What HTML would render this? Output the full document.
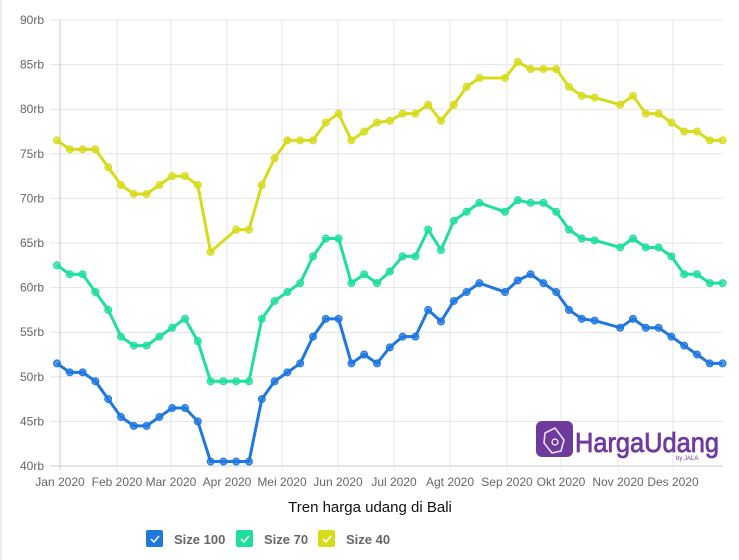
<!DOCTYPE html>
<html><head><meta charset="utf-8"><style>
html,body{margin:0;padding:0;background:#fff;width:739px;height:560px;overflow:hidden;font-family:"Liberation Sans",sans-serif}
</style></head><body>
<svg id="s" width="739" height="560" xmlns="http://www.w3.org/2000/svg"></svg>
<script>
const s=document.getElementById('s');
let h='';
h+='<line x1="1" y1="0" x2="1" y2="560" stroke="#e6e6e6" stroke-width="1.5"/>';
const Y=v=>466-(v-40)*8.92;
for(let v=40;v<=90;v+=5){const y=Y(v);h+=`<line x1="50" y1="${y}" x2="723" y2="${y}" stroke="${v==40?'#ccc':'#e4e4e4'}" stroke-width="1"/>`;
h+=`<text x="44" y="${y+4}" text-anchor="end" font-size="12" fill="#666">${v}rb</text>`;}
const gx=[60,117,171,227,282,338,394,450,507,561,618,673];
const ml=['Jan','Feb','Mar','Apr','Mei','Jun','Jul','Agt','Sep','Okt','Nov','Des'];
gx.forEach((x,i)=>{h+=`<line x1="${x}" y1="20" x2="${x}" y2="470" stroke="${i==0?'#c8c8c8':'#e4e4e4'}" stroke-width="1"/>`;
h+=`<text x="${x}" y="486" text-anchor="middle" font-size="12" fill="#666">${ml[i]} 2020</text>`;});
const N=null;
const yel=[76.5,75.5,75.5,75.5,73.5,71.5,70.5,70.5,71.5,72.5,72.5,71.5,64,N,66.5,66.5,71.5,74.5,76.5,76.5,76.5,78.5,79.5,76.5,77.5,78.5,78.7,79.5,79.5,80.5,78.7,80.5,82.5,83.5,N,83.5,85.3,84.5,84.5,84.5,82.5,81.5,81.3,N,80.5,81.5,79.5,79.5,78.5,77.5,77.5,76.5,76.5];
const grn=[62.5,61.5,61.5,59.5,57.5,54.5,53.5,53.5,54.5,55.5,56.5,54,49.5,49.5,49.5,49.5,56.5,58.5,59.5,60.5,63.5,65.5,65.5,60.5,61.5,60.5,61.8,63.5,63.5,66.5,64.2,67.5,68.5,69.5,N,68.5,69.8,69.5,69.5,68.5,66.5,65.5,65.3,N,64.5,65.5,64.5,64.5,63.5,61.5,61.5,60.5,60.5];
const blu=[51.5,50.5,50.5,49.5,47.5,45.5,44.5,44.5,45.5,46.5,46.5,45,40.5,40.5,40.5,40.5,47.5,49.5,50.5,51.5,54.5,56.5,56.5,51.5,52.5,51.5,53.3,54.5,54.5,57.5,56.2,58.5,59.5,60.5,N,59.5,60.8,61.5,60.5,59.5,57.5,56.5,56.3,N,55.5,56.5,55.5,55.5,54.5,53.5,52.5,51.5,51.5];
function ser(d,c){let p=[];d.forEach((v,i)=>{if(v!==null)p.push([57+12.8*i,Y(v)]);});
h+=`<polyline points="${p.map(q=>q.join(',')).join(' ')}" fill="none" stroke="${c}" stroke-width="3" stroke-linejoin="round"/>`;
p.forEach(q=>h+=`<circle cx="${q[0]}" cy="${q[1]}" r="3.5" fill="${c}" fill-opacity="0.75" stroke="${c}" stroke-width="1"/>`);}
ser(yel,'#d6dc1c');ser(grn,'#1fdf9c');ser(blu,'#1f78e0');
h+='<rect x="536" y="421" width="37" height="36" rx="6" fill="#6e3a9c"/>';
h+='<path d="M545 433 l10 -5 l9 12 l-3 11 l-9 2 l-8 -10 z" fill="none" stroke="#fff" stroke-width="1.6" opacity="0.85"/><circle cx="555" cy="442" r="3" fill="none" stroke="#fff" stroke-width="1.2"/>';
h+='<text x="575" y="452" font-size="28" fill="#6e3a9c" stroke="#6e3a9c" stroke-width="0.8" textLength="144" lengthAdjust="spacingAndGlyphs">HargaUdang</text>';
h+='<text x="676" y="460" font-size="6" fill="#6e3a9c">by JALA</text>';
h+='<text x="370" y="512" text-anchor="middle" font-size="15" fill="#111">Tren harga udang di Bali</text>';
[[146,'#1f78e0','Size 100'],[236,'#1fdf9c','Size 70'],[318,'#d6dc1c','Size 40']].forEach(l=>{
h+=`<rect x="${l[0]}" y="530" width="17" height="17" rx="2" fill="${l[1]}"/><path d="M${l[0]+5} ${539} l3 3 l5 -6" fill="none" stroke="#fff" stroke-width="1.5"/>`;
h+=`<text x="${l[0]+28}" y="544" font-size="13" font-weight="bold" fill="#666">${l[2]}</text>`;});
s.innerHTML=h;
</script>
</body></html>
